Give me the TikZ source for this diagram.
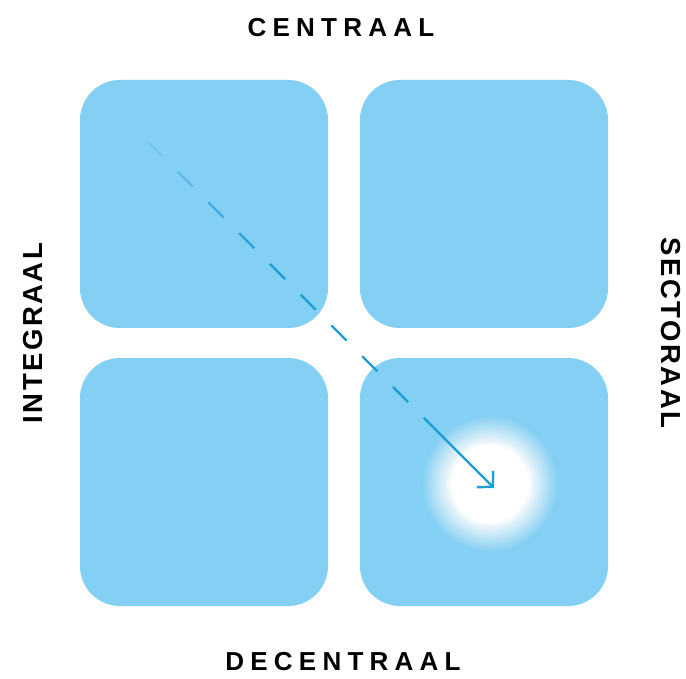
\documentclass[tikz,border=0pt]{standalone}
\usepackage{fontspec}
\setmainfont{Liberation Sans}
\usetikzlibrary{arrows.meta,calc}
\definecolor{boxblue}{RGB}{132,207,244}
\definecolor{arrowblue}{RGB}{27,156,215}
\newfontfamily\hlabelfont[LetterSpace=24]{Liberation Sans}
\newfontfamily\vlabelfont[LetterSpace=9]{Liberation Sans}
\tikzset{
  quad/.style={fill=boxblue, draw=none, rounded corners=40pt, minimum width=248pt, minimum height=248pt, inner sep=0pt},
  hlabel/.style={font=\hlabelfont\bfseries\fontsize{26}{30}\selectfont, text=black, inner sep=0pt},
  vlabel/.style={font=\vlabelfont\bfseries\fontsize{27.5}{30}\selectfont, text=black, inner sep=0pt},
  arrowline/.style={draw=arrowblue, line width=2.4pt},
}
\begin{document}
\begin{tikzpicture}[x=1pt,y=-1pt]
\useasboundingbox (0,0) rectangle (686,679);
\node[quad] (tl) at (204,204) {};
\node[quad] (tr) at (484,204) {};
\node[quad] (bl) at (204,482) {};
\node[quad] (br) at (484,482) {};
\coordinate (g) at (490,484);
\foreach \k [evaluate=\k as \op using 1/(16-\k), evaluate=\k as \rr using 69-2*\k] in {1,...,15}
  \fill[white, opacity=\op] (g) circle (\rr);
\coordinate (s) at (147,141);
\coordinate (m) at (423.7,417.7);
\coordinate (e) at (494,488);
\foreach \i/\op in {0/0.12,1/0.4,2/0.65,3/0.85,4/1,5/1,6/1,7/1,8/1}
  \draw[arrowline, opacity=\op] ($(s)!{\i/9}!(m)$) -- ($(s)!{(\i+0.49)/9}!(m)$);
\draw[arrowline, -{Straight Barb[length=11pt,width=23pt]}] (m) -- (e);
\node[hlabel] (c) at (341,28) {CENTRAAL};
\node[hlabel] (d) at (343,662) {DECENTRAAL};
\node[vlabel, rotate=90] (i) at (33,333) {INTEGRAAL};
\node[vlabel, rotate=-90] (se) at (671,333) {SECTORAAL};
\end{tikzpicture}
\end{document}
